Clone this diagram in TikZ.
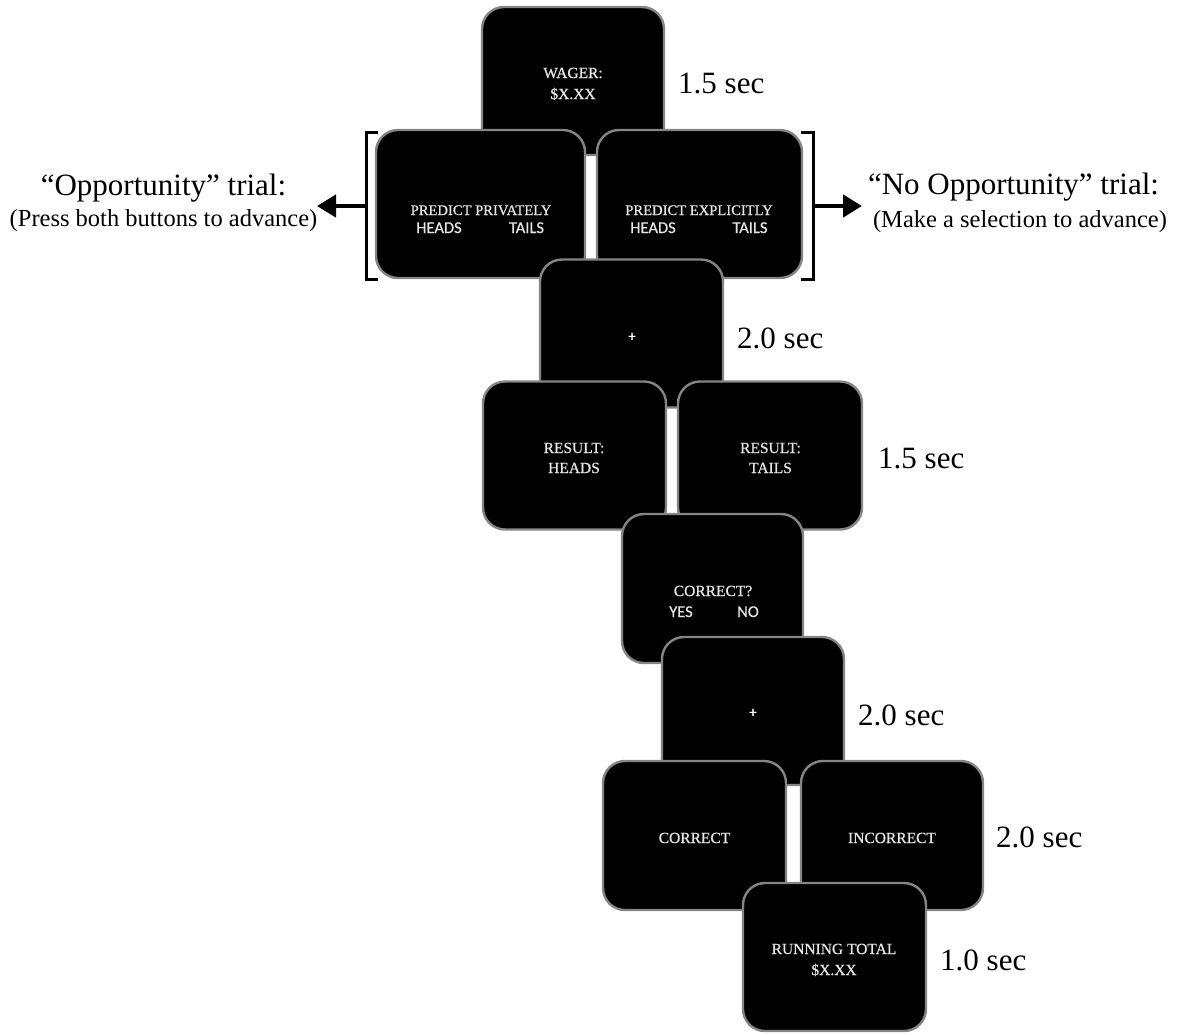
\documentclass[tikz,border=0pt]{standalone}
\usepackage{fontspec}
\setmainfont{Liberation Serif}
\newfontfamily\boxserif[FakeBold=0.7]{Liberation Serif}
\newfontfamily\boxsans[FakeBold=0.5]{Carlito}
\usetikzlibrary{arrows.meta}
\definecolor{scrgray}{HTML}{858585}
\definecolor{intxt}{HTML}{E6E6E6}
\begin{document}
\begin{tikzpicture}[x=1pt,y=-1pt,
  scr/.style={draw=scrgray, line width=2.4pt, fill=black, rounded corners=22pt, inner sep=0pt, minimum height=148pt},
  intext/.style={text=intxt, font=\boxserif\fontsize{15.5}{18}\selectfont, inner sep=0pt, anchor=base},
  predtext/.style={intext, font=\boxserif\fontsize{14.6}{17}\selectfont},
  insans/.style={text=intxt, font=\boxsans\fontsize{16.5}{19}\selectfont, inner sep=0pt, anchor=base},
  plus/.style={text=white, font=\boxsans\fontsize{15}{17}\selectfont, inner sep=0pt},
  dur/.style={font=\fontsize{31}{36}\selectfont, inner sep=0pt, anchor=base west},
  big/.style={font=\fontsize{31}{36}\selectfont, inner sep=0pt, anchor=base},
  small/.style={font=\fontsize{24.5}{28}\selectfont, inner sep=0pt, anchor=base},
  brk/.style={line width=3pt},
  arr/.style={line width=4.5pt, -{Triangle[length=19pt,width=22pt]}}]
\useasboundingbox (0,0) rectangle (1177,1034);

% WAGER
\node[scr, minimum width=182pt] (wager) at (573,81) {};
\node[intext] (wagerA) at (573,78) {WAGER:};
\node[intext] (wagerB) at (573,99) {\$X.XX};
\node[dur] (t1) at (678,93) {1.5 sec};

% PREDICT
\node[scr, minimum width=209pt] (pp) at (480.5,204) {};
\node[scr, minimum width=205pt] (pe) at (699.5,204) {};
\node[predtext] (ppA) at (481,215) {PREDICT PRIVATELY};
\node[insans] (ppH) at (439,233) {HEADS};
\node[insans] (ppT) at (526.5,233) {TAILS};
\node[predtext] (peA) at (699,215) {PREDICT EXPLICITLY};
\node[insans] (peH) at (653,233) {HEADS};
\node[insans] (peT) at (750,233) {TAILS};

% brackets and arrows
\draw[brk] (378,132) -- (366,132) -- (366,279) -- (378,279);
\draw[brk] (801,132) -- (813,132) -- (813,279) -- (801,279);
\coordinate (lb) at (366,206);
\coordinate (lt) at (317,206);
\coordinate (rb) at (813,206);
\coordinate (rt) at (862,206);
\draw[arr] (lb) -- (lt);
\draw[arr] (rb) -- (rt);
\node[big] (oppA) at (163.5,195) {“Opportunity” trial:};
\node[small] (oppB) at (163.5,226) {(Press both buttons to advance)};
\node[big] (noA) at (1013.5,194) {“No Opportunity” trial:};
\node[small] (noB) at (1020,227) {(Make a selection to advance)};

% fixation 1
\node[scr, minimum width=183pt] (fix1) at (631.5,333.5) {};
\node[plus] (fix1p) at (632,337) {+};
\node[dur] (t2) at (737,348) {2.0 sec};

% RESULT
\node[scr, minimum width=183pt] (rh) at (574.5,455.5) {};
\node[scr, minimum width=184pt] (rt2) at (770,455.5) {};
\node[intext] (rhA) at (574,453) {RESULT:};
\node[intext] (rhB) at (574,473) {HEADS};
\node[intext] (rtA) at (770.5,453) {RESULT:};
\node[intext] (rtB) at (770.5,473) {TAILS};
\node[dur] (t3) at (878,468) {1.5 sec};

% CORRECT?
\node[scr, minimum width=181pt, minimum height=149pt] (cq) at (712.5,588.5) {};
\node[intext] (cqA) at (713,596) {CORRECT?};
\node[insans] (cqY) at (681,617) {YES};
\node[insans] (cqN) at (748,617) {NO};

% fixation 2
\node[scr, minimum width=182pt] (fix2) at (753,711) {};
\node[plus] (fix2p) at (753,713) {+};
\node[dur] (t4) at (858,725) {2.0 sec};

% CORRECT / INCORRECT
\node[scr, minimum width=183pt, minimum height=149pt] (co) at (694.5,835.5) {};
\node[scr, minimum width=182pt, minimum height=149pt] (inc) at (892,835.5) {};
\node[intext] (coA) at (694.5,843) {CORRECT};
\node[intext] (incA) at (892,843) {INCORRECT};
\node[dur] (t5) at (996,847) {2.0 sec};

% RUNNING TOTAL
\node[scr, minimum width=183pt, minimum height=148pt] (tot) at (834.5,957) {};
\node[intext] (totA) at (834,954) {RUNNING TOTAL};
\node[intext] (totB) at (834,975) {\$X.XX};
\node[dur] (t6) at (940,970) {1.0 sec};
\end{tikzpicture}
\end{document}
